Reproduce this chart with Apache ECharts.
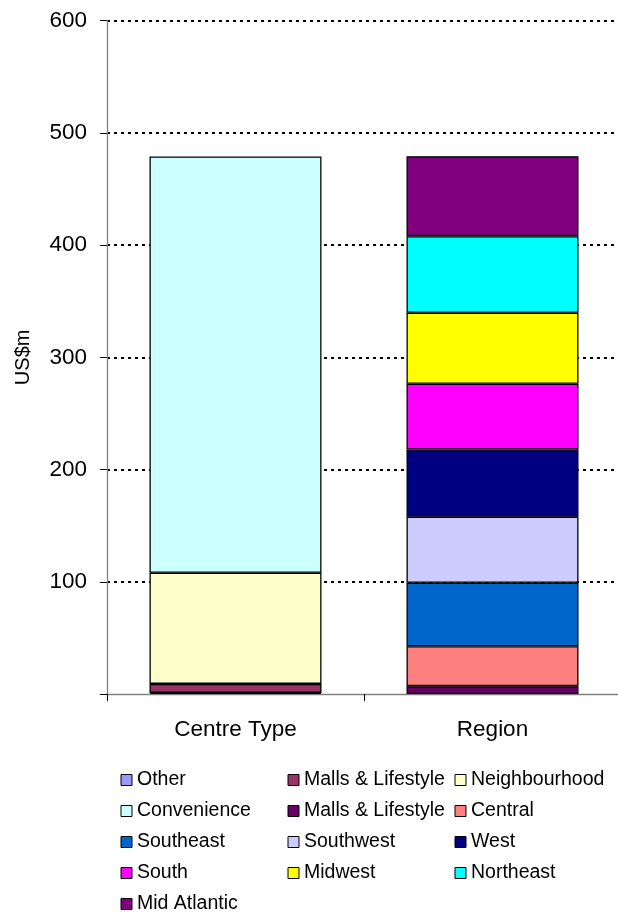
<!DOCTYPE html>
<html>
<head>
<meta charset="utf-8">
<script src="https://cdn.jsdelivr.net/npm/echarts@6/dist/echarts.min.js"></script>
<style>
html,body{margin:0;padding:0;background:#fff;overflow:hidden;}
#chart{width:624px;height:914px;}
</style>
</head>
<body>
<div id="chart"></div>
<script>
// ---- data ----
const categories = ['Centre Type', 'Region'];
const yTicks = [0, 100, 200, 300, 400, 500, 600];

const centreNames = ['Other', 'Malls & Lifestyle', 'Neighbourhood', 'Convenience'];
const centreValues = [1, 8, 99, 371];

const regionNames = ['Malls & Lifestyle ', 'Central', 'Southeast', 'Southwest', 'West', 'South', 'Midwest', 'Northeast', 'Mid Atlantic'];
const regionValues = [7, 35.6, 56.5, 58.8, 60, 58.6, 63.2, 68.3, 71.3];

const colors = {
  'Other': '#9999FF',
  'Malls & Lifestyle': '#993366',
  'Neighbourhood': '#FFFFCC',
  'Convenience': '#CCFFFF',
  'Malls & Lifestyle ': '#660066',
  'Central': '#FF8080',
  'Southeast': '#0066CC',
  'Southwest': '#CCCCFF',
  'West': '#000080',
  'South': '#FF00FF',
  'Midwest': '#FFFF00',
  'Northeast': '#00FFFF',
  'Mid Atlantic': '#800080'
};

const legendCol1 = ['Other', 'Convenience', 'Southeast', 'South', 'Mid Atlantic'];
const legendCol2 = ['Malls & Lifestyle', 'Malls & Lifestyle ', 'Southwest', 'Midwest'];
const legendCol3 = ['Neighbourhood', 'Central', 'West', 'Northeast'];

// ---- chart ----
const FONT = '"Liberation Sans", Arial, sans-serif';
const series = [];
centreNames.forEach((n, i) => {
  series.push({ name: n, type: 'bar', stack: 'all', data: [centreValues[i], '-'] });
});
regionNames.forEach((n, i) => {
  series.push({ name: n, type: 'bar', stack: 'all', data: ['-', regionValues[i]] });
});
series.forEach(s => {
  s.barWidth = 172;
  s.itemStyle = { color: colors[s.name], borderColor: '#000', borderWidth: 1.3 };
  s.emphasis = { disabled: true };
  s.animation = false;
});

function makeLegend(data, left) {
  return {
    data: data,
    orient: 'vertical',
    left: left,
    top: 770,
    height: 170,
    icon: 'rect',
    itemWidth: 11,
    itemHeight: 11,
    itemGap: 11,
    itemStyle: { borderColor: '#000', borderWidth: 1 },
    itemTextGap: 6,
    selectedMode: false,
    padding: 0,
    textStyle: { fontFamily: FONT, fontSize: 19.5, color: '#000', lineHeight: 20 }
  };
}

const chart = echarts.init(document.getElementById('chart'), null, { renderer: 'canvas' });
chart.setOption({
  animation: false,
  backgroundColor: '#fff',
  grid: { left: 107, top: 20.7, width: 514, height: 673.3, containLabel: false },
  legend: [makeLegend(legendCol1, 120.5), makeLegend(legendCol2, 287.5), makeLegend(legendCol3, 454.5)],
  xAxis: {
    type: 'category',
    data: categories,
    axisLine: { lineStyle: { color: '#808080', width: 1.3 } },
    axisTick: { show: true, length: 7, lineStyle: { color: '#000', width: 1 } },
    axisLabel: { fontFamily: FONT, fontSize: 22.5, color: '#000', margin: 24 }
  },
  yAxis: {
    type: 'value',
    min: yTicks[0],
    max: yTicks[yTicks.length - 1],
    interval: 100,
    name: 'US$m',
    nameLocation: 'middle',
    nameRotate: 90,
    nameGap: 74,
    nameTextStyle: { fontFamily: FONT, fontSize: 20, color: '#000' },
    axisLine: { show: true, lineStyle: { color: '#808080', width: 1.3 } },
    axisTick: { show: true, length: 7, lineStyle: { color: '#000' } },
    axisLabel: {
      fontFamily: FONT, fontSize: 22.5, color: '#000', margin: 20,
      formatter: v => (v === 0 ? '' : String(v))
    },
    splitLine: { show: true, showMinLine: false, lineStyle: { color: '#000', type: [3, 4], width: 2 } }
  },
  series: series
});
</script>
</body>
</html>
